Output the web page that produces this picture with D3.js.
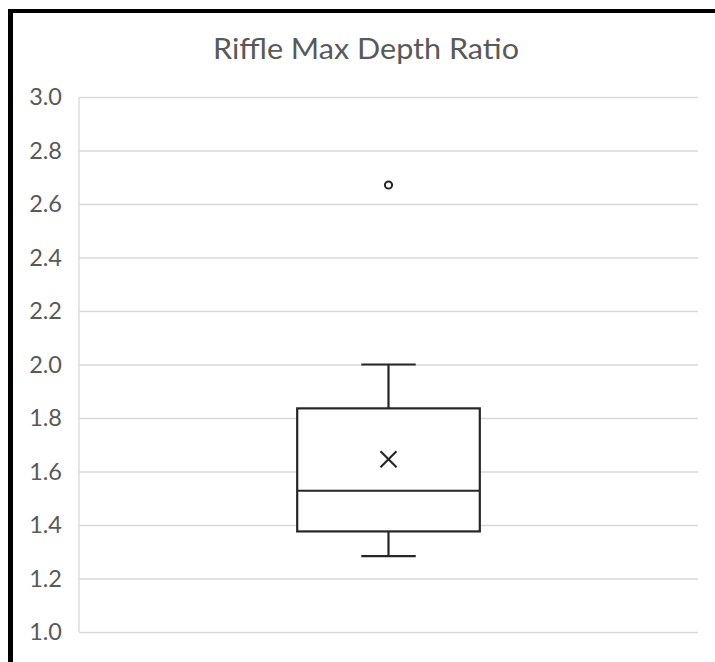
<!DOCTYPE html>
<html><head><meta charset="utf-8">
<script src="https://cdn.jsdelivr.net/npm/d3@7"></script>
<style>body{margin:0;background:#fff}svg{display:block}</style>
</head><body>
<svg id="c" width="715" height="662"></svg>
<script>
const title = "Riffle Max Depth Ratio";
const yTicks = [1.0, 1.2, 1.4, 1.6, 1.8, 2.0, 2.2, 2.4, 2.6, 2.8, 3.0];
const categories = ["Riffle"];
const whiskerLow = [1.284];
const q1 = [1.376];
const median = [1.528];
const q3 = [1.836];
const whiskerHigh = [2.0];
const mean = [1.646];
const outliers = [[2.671]];

(function () {
const svg = d3.select("#c");
const font = "Lato, 'Open Sans', 'Liberation Sans', sans-serif";
const pL = 79, pR = 698, pT = 97, pB = 632;
const y = d3.scaleLinear().domain([1.0, 3.0]).range([pB, pT]);
const x = d3.scaleBand().domain(categories).range([pL, pR]).paddingInner(0).paddingOuter(0);

// frame
svg.append("rect").attr("x", 8).attr("y", 9).attr("width", 5).attr("height", 653).attr("fill", "#000");
svg.append("rect").attr("x", 8).attr("y", 9).attr("width", 707).attr("height", 4).attr("fill", "#000");

// title
svg.append("text").attr("x", 366).attr("y", 59).attr("text-anchor", "middle")
  .attr("font-family", font).attr("font-size", 29).attr("fill", "#595959")
  .attr("textLength", 306).attr("lengthAdjust", "spacingAndGlyphs").text(title);

// grid
const yAxis = d3.axisLeft(y).tickValues(yTicks).tickFormat(d3.format(".1f")).tickSize(-(pR - pL)).tickPadding(17);
const g = svg.append("g").attr("transform", `translate(${pL},0)`).call(yAxis);
g.select(".domain").remove();
g.selectAll(".tick line").attr("stroke", "#d9d9d9").attr("stroke-width", 1.3);
g.selectAll(".tick text").attr("font-family", font).attr("font-size", 23.5).attr("fill", "#595959");
svg.append("line").attr("x1", pL).attr("x2", pL).attr("y1", pT).attr("y2", pB).attr("stroke", "#d9d9d9").attr("stroke-width", 1.3);

// boxes
categories.forEach((c, i) => {
  const cx = x(c) + x.bandwidth() / 2;
  const bw = x.bandwidth() * 0.295;
  const cap = x.bandwidth() * 0.044;
  const gb = svg.append("g").attr("stroke", "#262626").attr("fill", "none").attr("stroke-width", 2.2);
  gb.append("line").attr("x1", cx).attr("x2", cx).attr("y1", y(whiskerHigh[i])).attr("y2", y(q3[i]));
  gb.append("line").attr("x1", cx).attr("x2", cx).attr("y1", y(q1[i])).attr("y2", y(whiskerLow[i]));
  gb.append("line").attr("x1", cx - cap).attr("x2", cx + cap).attr("y1", y(whiskerHigh[i])).attr("y2", y(whiskerHigh[i]));
  gb.append("line").attr("x1", cx - cap).attr("x2", cx + cap).attr("y1", y(whiskerLow[i])).attr("y2", y(whiskerLow[i]));
  gb.append("rect").attr("x", cx - bw / 2).attr("width", bw).attr("y", y(q3[i])).attr("height", y(q1[i]) - y(q3[i])).attr("fill", "#fff");
  gb.append("line").attr("x1", cx - bw / 2).attr("x2", cx + bw / 2).attr("y1", y(median[i])).attr("y2", y(median[i]));
  const m = 8, my = y(mean[i]);
  gb.append("line").attr("x1", cx - m).attr("x2", cx + m).attr("y1", my - m).attr("y2", my + m);
  gb.append("line").attr("x1", cx - m).attr("x2", cx + m).attr("y1", my + m).attr("y2", my - m);
  outliers[i].forEach(o => {
    gb.append("circle").attr("cx", cx).attr("cy", y(o)).attr("r", 3.6).attr("stroke-width", 2);
  });
});
})();
</script>
</body></html>
